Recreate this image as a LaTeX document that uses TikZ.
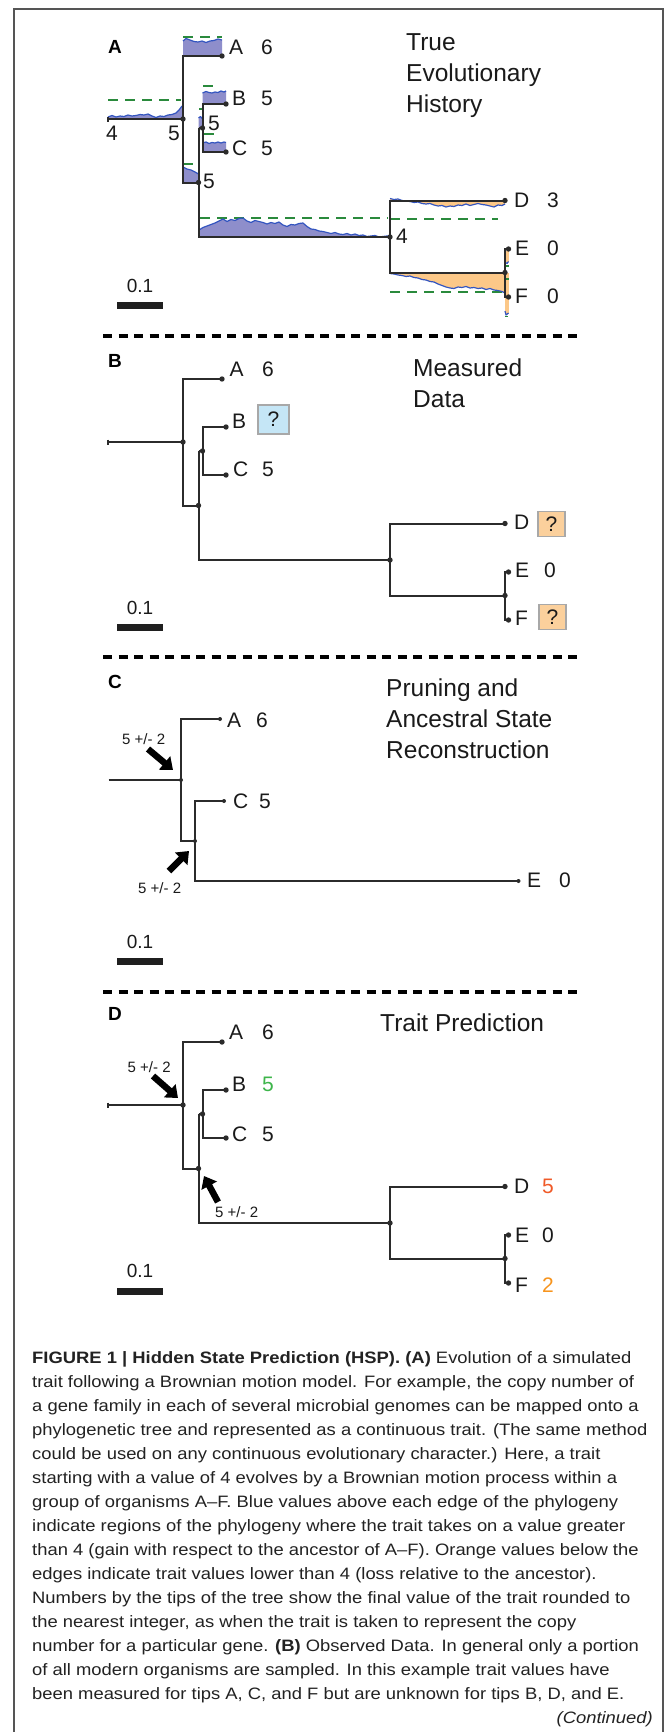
\documentclass[tikz,border=0pt]{standalone}
\usepackage{fontspec}
\setmainfont{Liberation Sans}
\newfontfamily\capfont[FakeStretch=1.115]{Liberation Sans}
\usetikzlibrary{arrows.meta}
\definecolor{bfill}{HTML}{8E8ECB}
\definecolor{bline}{HTML}{3355C0}
\definecolor{ofill}{HTML}{FCC888}
\definecolor{gdash}{HTML}{2A8A3C}
\definecolor{treec}{HTML}{2B2B2B}
\definecolor{qblue}{HTML}{C5E6F6}
\definecolor{qorange}{HTML}{FBD09C}
\definecolor{qborder}{HTML}{A8A8A8}
\definecolor{vgreen}{HTML}{3DB54A}
\definecolor{vred}{HTML}{F05A28}
\definecolor{vorange}{HTML}{F7941D}
\definecolor{borderc}{HTML}{555555}
\definecolor{labc}{HTML}{1A1A1A}
\definecolor{capc}{HTML}{222222}
\newcommand{\pdot}[1]{\fill[treec] (#1) circle[radius=2.7pt];}
\newcommand{\phylo}[2]{%
 \coordinate (#1s) at (108,#2);
 \coordinate (#1r) at (183,#2);
 \coordinate (#1ra) at (183,{#2-63});
 \coordinate (#1A) at (222,{#2-63});
 \coordinate (#1rl) at (183,{#2+63.5});
 \coordinate (#1l) at (198.5,{#2+63.5});
 \coordinate (#1lb) at (198.5,{#2+9});
 \coordinate (#1bc) at (202.5,{#2+9});
 \coordinate (#1bcb) at (202.5,{#2-15});
 \coordinate (#1B) at (226,{#2-15});
 \coordinate (#1bcc) at (202.5,{#2+33});
 \coordinate (#1C) at (226,{#2+33});
 \coordinate (#1ll) at (198.5,{#2+118});
 \coordinate (#1n) at (390,{#2+118});
 \coordinate (#1nd) at (390,{#2+81.5});
 \coordinate (#1D) at (505,{#2+81.5});
 \coordinate (#1ne) at (390,{#2+153.5});
 \coordinate (#1ef) at (505,{#2+153.5});
 \coordinate (#1ee) at (505,{#2+130});
 \coordinate (#1E) at (508.5,{#2+130});
 \coordinate (#1ff) at (505,{#2+178});
 \coordinate (#1F) at (508.5,{#2+178});
 \draw[tree] (#1s) -- (#1r);
 \draw[tree] ([yshift=2.5pt]#1s) -- ([yshift=-2.5pt]#1s);
 \draw[tree] (#1A) -- (#1ra) -- (#1rl) -- (#1l);
 \draw[tree] (#1lb) -- (#1ll) -- (#1n);
 \draw[tree] (#1lb) -- (#1bc);
 \draw[tree] (#1B) -- (#1bcb) -- (#1bcc) -- (#1C);
 \draw[tree] (#1D) -- (#1nd) -- (#1ne) -- (#1ef);
 \draw[tree] (#1E) -- (#1ee) -- (#1ff) -- (#1F);
 \pdot{#1r}\pdot{#1A}\pdot{#1B}\pdot{#1C}\pdot{#1l}\pdot{#1bc}
 \pdot{#1n}\pdot{#1D}\pdot{#1ef}\pdot{#1E}\pdot{#1F}
}
\begin{document}
\begin{tikzpicture}[x=1pt,y=-1pt,
 tree/.style={draw=treec, line width=2pt},
 thintree/.style={draw=treec, line width=1.6pt},
 lab/.style={font=\fontsize{21}{25}\selectfont, inner sep=0pt, anchor=base west, text=labc},
 ttl/.style={font=\fontsize{24.5}{31}\selectfont, inner sep=0pt, anchor=base west, text=labc},
 pl/.style={font=\bfseries\fontsize{19}{22}\selectfont, inner sep=0pt, anchor=base west},
 sc/.style={font=\fontsize{19}{22}\selectfont, inner sep=0pt, anchor=base, text=labc},
 sbar/.style={fill=black!88},
 pm/.style={font=\fontsize{15}{18}\selectfont, inner sep=0pt, anchor=base west, text=labc},
 captxt/.style={font=\capfont\fontsize{16.5}{24}\selectfont, inner sep=0pt, anchor=base west, text=capc},
 sepline/.style={line width=4pt, dash pattern=on 9pt off 6.5pt},
 gd/.style={draw=gdash, line width=1.8pt, dash pattern=on 10pt off 7pt},
 wv/.style={draw=bline, line width=1.2pt, line join=round},
 qbox/.style={draw=qborder, line width=1.5pt, inner sep=0pt, font=\fontsize{21}{25}\selectfont, text=labc},
 barrow/.style={draw=black, line width=6.5pt, -{Triangle[length=11pt,width=17pt]}}
]
\useasboundingbox (0,0) rectangle (669,1732);
\fill[white] (0,0) rectangle (669,1732);
\draw[line width=1.3pt, draw=borderc] (14,1732) -- (14,9) -- (663,9) -- (663,1732);

% ================= Panel A =================
\fill[bfill] (108,119) -- plot coordinates {(108,117) (112,115.5) (116,117) (120,116) (124,116.5) (128,115) (132,116) (136,115.5) (140,114.5) (144,115) (148,114) (152,116) (156,117.5) (160,116) (164,116.5) (168,115) (172,114.5) (176,113) (179,110) (182,106)} -- (183,119) -- cycle;
\fill[bfill] (183,56) -- plot coordinates {(183,41) (186,38.5) (190,40) (194,41.5) (198,42) (202,41) (206,42.5) (210,41) (214,40.5) (218,39) (222,40)} -- (222,56) -- cycle;
\fill[bfill] (202.5,104) -- plot coordinates {(202.5,93) (206,91.5) (209,92.5) (212,93) (215,92) (218,92.5) (221,91) (224,92) (226,91)} -- (226,104) -- cycle;
\fill[bfill] (202.5,152) -- plot coordinates {(202.5,143) (206,142) (209,143.5) (212,142.5) (215,143) (218,142) (221,143) (224,142) (226,142.5)} -- (226,152) -- cycle;
\fill[bfill] (183,182.5) -- plot coordinates {(183,167) (187,169) (191,170) (195,172) (198.5,174)} -- (198.5,182.5) -- cycle;
\fill[bfill] (198.5,128) -- plot coordinates {(198.5,118) (200.5,116.5) (202.5,119)} -- (202.5,128) -- cycle;
\fill[bfill] (198.5,237) -- plot coordinates {(199,230) (203,227.5) (207,226) (211,224.5) (215,223) (219,221) (223,219) (227,221.5) (231,219.5) (235,220.5) (239,218.5) (243,218) (247,221) (251,222.5) (255,220.5) (259,221.5) (263,222.5) (267,224) (271,222.5) (275,223.5) (279,222) (283,225) (287,226.5) (291,224.5) (295,225) (299,223.5) (303,223) (307,226.5) (311,229) (315,229.5) (319,231) (323,231.5) (327,232.5) (331,233.5) (335,232.5) (339,234) (343,234.5) (347,233.5) (351,235) (355,234) (359,235.5) (363,235) (367,236.5) (371,236) (375,235.5) (379,237) (383,236.5) (387,236) (390,236)} -- (390,237) -- cycle;
\fill[ofill] (390,200) -- plot coordinates {(390,198.5) (394,199.5) (398,199) (402,200.5) (406,201) (410,201.5) (414,202.5) (418,202) (422,203.5) (426,204) (430,203.5) (434,205) (438,206) (442,205.5) (446,207) (450,206) (454,206.5) (458,205) (462,205.5) (466,204) (470,205.5) (474,204.5) (478,203.5) (482,204.5) (486,205) (490,206) (494,207) (498,205) (502,205.5) (505,204)} -- (505,200) -- cycle;
\fill[ofill] (390,273) -- plot coordinates {(390,273.5) (394,274) (398,275) (402,275.5) (406,276.5) (410,276) (414,277.5) (418,278) (422,279.5) (426,280) (430,281.5) (434,282) (438,284) (442,285.5) (446,287) (450,288) (454,288.5) (458,287) (462,287.5) (466,286.5) (470,288) (474,287.5) (478,288.5) (482,288) (486,289.5) (490,288.5) (494,290) (498,290.5) (502,291.5) (505,293)} -- (505,273) -- cycle;
\fill[ofill] (505,251) rectangle (509,262);
\fill[ofill] (505,273) rectangle (509,314);
\draw[gd] (108,100) -- (181,100);
\draw[gd] (183,37) -- (222,37);
\draw[gd] (203,86) -- (214,86);
\draw[gd] (204,134) -- (214,134);
\draw[gd] (183,164) -- (197,164);
\draw[gd] (199,109) -- (203,109);
\draw[gd] (200,218) -- (388,218);
\draw[gd] (390,219) -- (498,219);
\draw[gd] (390,292) -- (505,292);
\draw[draw=gdash, line width=1.5pt] (506,266) -- (509,266) (506,279) -- (509,279) (505,316.5) -- (508,316.5);
\draw[wv] plot coordinates {(108,117) (112,115.5) (116,117) (120,116) (124,116.5) (128,115) (132,116) (136,115.5) (140,114.5) (144,115) (148,114) (152,116) (156,117.5) (160,116) (164,116.5) (168,115) (172,114.5) (176,113) (179,110) (182,106)};
\draw[wv] plot coordinates {(183,41) (186,38.5) (190,40) (194,41.5) (198,42) (202,41) (206,42.5) (210,41) (214,40.5) (218,39) (222,40)};
\draw[wv] plot coordinates {(202.5,93) (206,91.5) (209,92.5) (212,93) (215,92) (218,92.5) (221,91) (224,92) (226,91)};
\draw[wv] plot coordinates {(202.5,143) (206,142) (209,143.5) (212,142.5) (215,143) (218,142) (221,143) (224,142) (226,142.5)};
\draw[wv] plot coordinates {(183,167) (187,169) (191,170) (195,172) (198.5,174)};
\draw[wv] plot coordinates {(198.5,118) (200.5,116.5) (202.5,119)};
\draw[wv] plot coordinates {(199,230) (203,227.5) (207,226) (211,224.5) (215,223) (219,221) (223,219) (227,221.5) (231,219.5) (235,220.5) (239,218.5) (243,218) (247,221) (251,222.5) (255,220.5) (259,221.5) (263,222.5) (267,224) (271,222.5) (275,223.5) (279,222) (283,225) (287,226.5) (291,224.5) (295,225) (299,223.5) (303,223) (307,226.5) (311,229) (315,229.5) (319,231) (323,231.5) (327,232.5) (331,233.5) (335,232.5) (339,234) (343,234.5) (347,233.5) (351,235) (355,234) (359,235.5) (363,235) (367,236.5) (371,236) (375,235.5) (379,237) (383,236.5) (387,236) (390,236)};
\draw[wv] plot coordinates {(390,198.5) (394,199.5) (398,199) (402,200.5) (406,201) (410,201.5) (414,202.5) (418,202) (422,203.5) (426,204) (430,203.5) (434,205) (438,206) (442,205.5) (446,207) (450,206) (454,206.5) (458,205) (462,205.5) (466,204) (470,205.5) (474,204.5) (478,203.5) (482,204.5) (486,205) (490,206) (494,207) (498,205) (502,205.5) (505,204)};
\draw[wv] plot coordinates {(390,273.5) (394,274) (398,275) (402,275.5) (406,276.5) (410,276) (414,277.5) (418,278) (422,279.5) (426,280) (430,281.5) (434,282) (438,284) (442,285.5) (446,287) (450,288) (454,288.5) (458,287) (462,287.5) (466,286.5) (470,288) (474,287.5) (478,288.5) (482,288) (486,289.5) (490,288.5) (494,290) (498,290.5) (502,291.5) (505,293)};
\draw[wv] (505,262) -- (507,263.5) -- (508.5,261.5);
\draw[wv] (505,311) -- (506,315) -- (508.5,313);
\phylo{a}{119}
\node[pl] (aP) at (108,53) {A};
\node[lab] (aAl) at (229,54) {A};
\node[lab] (aAv) at (261,54) {6};
\node[lab] (aBl) at (232,105) {B};
\node[lab] (aBv) at (261,105) {5};
\node[lab] (aCl) at (232,155) {C};
\node[lab] (aCv) at (261,155) {5};
\node[lab] (aDl) at (514,207) {D};
\node[lab] (aDv) at (547,207) {3};
\node[lab] (aEl) at (515,255) {E};
\node[lab] (aEv) at (547,255) {0};
\node[lab] (aFl) at (515,303) {F};
\node[lab] (aFv) at (547,303) {0};
\node[lab] (aN1) at (106,140) {4};
\node[lab] (aN2) at (168,140) {5};
\node[lab] (aN3) at (208,130) {5};
\node[lab] (aN4) at (203,188) {5};
\node[lab] (aN5) at (396,243) {4};
\node[ttl] (aT1) at (406,50) {True};
\node[ttl] (aT2) at (406,81) {Evolutionary};
\node[ttl] (aT3) at (406,112) {History};
\node[sc] (aS) at (140,292) {0.1};
\fill[sbar] (117,302) rectangle (163,309);

\draw[sepline] (103,336) -- (577,336);

% ================= Panel B =================
\phylo{b}{442}
\node[pl] (bP) at (108,367) {B};
\node[lab] (bAl) at (229.5,376) {A};
\node[lab] (bAv) at (262,376) {6};
\node[lab] (bBl) at (232,428) {B};
\node[qbox, fill=qblue, minimum width=31pt, minimum height=29pt] (bq1) at (273.5,419.5) {?};
\node[lab] (bCl) at (233,476) {C};
\node[lab] (bCv) at (262,476) {5};
\node[lab] (bDl) at (514,529) {D};
\node[qbox, fill=qorange, minimum width=27pt, minimum height=25pt] (bq2) at (551.5,524) {?};
\node[lab] (bEl) at (515,577) {E};
\node[lab] (bEv) at (544,577) {0};
\node[lab] (bFl) at (515,625) {F};
\node[qbox, fill=qorange, minimum width=27pt, minimum height=25pt] (bq3) at (552.5,617) {?};
\node[ttl] (bT1) at (413,376) {Measured};
\node[ttl] (bT2) at (413,407) {Data};
\node[sc] (bS) at (140,614) {0.1};
\fill[sbar] (117,624) rectangle (163,631);

\draw[sepline] (103,657) -- (577,657);

% ================= Panel C =================
\coordinate (cs) at (108.5,780);
\coordinate (cr) at (181,780);
\coordinate (cra) at (181,719);
\coordinate (cA) at (220,719);
\coordinate (crl) at (181,841);
\coordinate (cl) at (195,841);
\coordinate (clc) at (195,801);
\coordinate (cC) at (224,801);
\coordinate (cle) at (195,881);
\coordinate (cE) at (518.5,881);
\draw[thintree] (cs) -- (cr);
\draw[thintree] (cA) -- (cra) -- (crl) -- (cl);
\draw[thintree] (cC) -- (clc) -- (cle) -- (cE);
\foreach \p in {cr,cA,cl,cC,cE} {\fill[treec] (\p) circle[radius=2pt];}
\node[pl] (cP) at (108,688) {C};
\node[lab] (cAl) at (227,727) {A};
\node[lab] (cAv) at (256,727) {6};
\node[lab] (cCl) at (233,808) {C};
\node[lab] (cCv) at (259,808) {5};
\node[lab] (cEl) at (527,887) {E};
\node[lab] (cEv) at (559,887) {0};
\node[pm] (cpm1) at (122,744) {5 +/- 2};
\node[pm] (cpm2) at (138,893) {5 +/- 2};
\coordinate (ca1t) at (148,749);
\coordinate (ca1h) at (173,770);
\coordinate (ca2t) at (169,871);
\coordinate (ca2h) at (189,851);
\draw[barrow] (ca1t) -- (ca1h);
\draw[barrow] (ca2t) -- (ca2h);
\node[ttl] (cT1) at (386,696) {Pruning and};
\node[ttl] (cT2) at (386,727) {Ancestral State};
\node[ttl] (cT3) at (386,758) {Reconstruction};
\node[sc] (cS) at (140,948) {0.1};
\fill[sbar] (117,958) rectangle (163,965);

\draw[sepline] (103,992) -- (577,992);

% ================= Panel D =================
\phylo{d}{1105}
\node[pl] (dP) at (108,1020) {D};
\node[lab] (dAl) at (229,1039) {A};
\node[lab] (dAv) at (262,1039) {6};
\node[lab] (dBl) at (232,1091) {B};
\node[lab, text=vgreen] (dBv) at (262,1091) {5};
\node[lab] (dCl) at (232,1141) {C};
\node[lab] (dCv) at (262,1141) {5};
\node[lab] (dDl) at (514,1193) {D};
\node[lab, text=vred] (dDv) at (542,1193) {5};
\node[lab] (dEl) at (515,1242) {E};
\node[lab] (dEv) at (542,1242) {0};
\node[lab] (dFl) at (515,1292) {F};
\node[lab, text=vorange] (dFv) at (542,1292) {2};
\node[pm] (dpm1) at (127.5,1072) {5 +/- 2};
\node[pm] (dpm2) at (215,1217) {5 +/- 2};
\coordinate (da1t) at (153,1076);
\coordinate (da1h) at (178,1098);
\coordinate (da2t) at (218,1202);
\coordinate (da2h) at (204,1176);
\draw[barrow] (da1t) -- (da1h);
\draw[barrow] (da2t) -- (da2h);
\node[ttl] (dT1) at (380,1031) {Trait Prediction};
\node[sc] (dS) at (140,1277) {0.1};
\fill[sbar] (117,1288) rectangle (163,1295);

% ================= Caption =================
\node[captxt] (k1) at (32,1363) {\textbf{FIGURE 1 | Hidden State Prediction (HSP). (A)} Evolution of a simulated};
\node[captxt] (k2) at (32,1387) {trait following a Brownian motion model. For example, the copy number of};
\node[captxt] (k3) at (32,1411) {a gene family in each of several microbial genomes can be mapped onto a};
\node[captxt] (k4) at (32,1435) {phylogenetic tree and represented as a continuous trait. (The same method};
\node[captxt] (k5) at (32,1459) {could be used on any continuous evolutionary character.) Here, a trait};
\node[captxt] (k6) at (32,1483) {starting with a value of 4 evolves by a Brownian motion process within a};
\node[captxt] (k7) at (32,1507) {group of organisms A–F. Blue values above each edge of the phylogeny};
\node[captxt] (k8) at (32,1531) {indicate regions of the phylogeny where the trait takes on a value greater};
\node[captxt] (k9) at (32,1555) {than 4 (gain with respect to the ancestor of A–F). Orange values below the};
\node[captxt] (k10) at (32,1579) {edges indicate trait values lower than 4 (loss relative to the ancestor).};
\node[captxt] (k11) at (32,1603) {Numbers by the tips of the tree show the final value of the trait rounded to};
\node[captxt] (k12) at (32,1627) {the nearest integer, as when the trait is taken to represent the copy};
\node[captxt] (k13) at (32,1651) {number for a particular gene. \textbf{(B)} Observed Data. In general only a portion};
\node[captxt] (k14) at (32,1675) {of all modern organisms are sampled. In this example trait values have};
\node[captxt] (k15) at (32,1699) {been measured for tips A, C, and F but are unknown for tips B, D, and E.};
\node[captxt, anchor=base east] (k16) at (653,1723) {\itshape (Continued)};
\end{tikzpicture}
\end{document}
